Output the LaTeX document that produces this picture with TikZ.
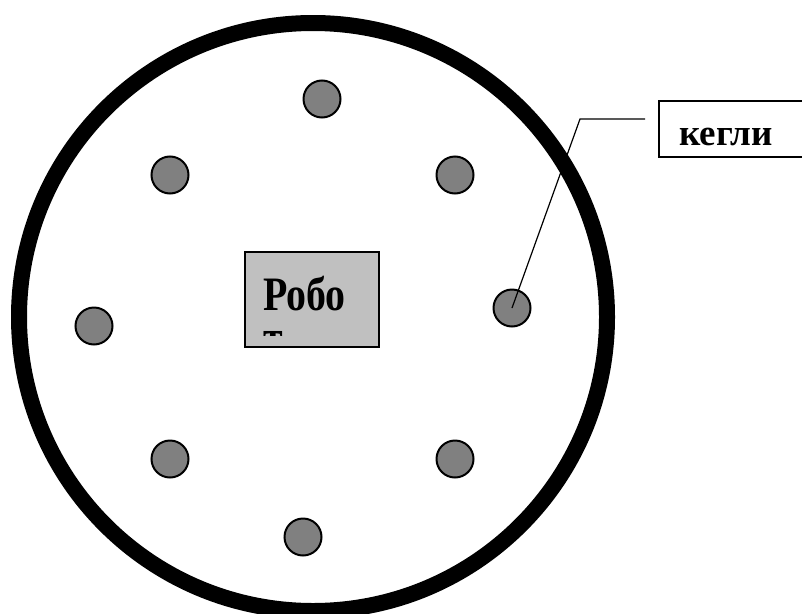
\documentclass[tikz,border=0pt]{standalone}
\usepackage{fontspec}
\setmainfont{Liberation Serif}
\definecolor{pingray}{HTML}{808080}
\definecolor{robotgray}{HTML}{C0C0C0}
\begin{document}
\begin{tikzpicture}[x=1pt,y=-1pt,
  pin/.style={circle, draw=black, line width=2pt, fill=pingray, minimum size=37pt, inner sep=0pt},
  leader/.style={line width=1.2pt},
  robottext/.style={font=\fontsize{48}{43}\selectfont\bfseries, inner sep=0pt, align=left, xscale=0.83},
  label/.style={font=\fontsize{37}{40}\selectfont\bfseries, inner sep=0pt}]
\useasboundingbox (0,0) rectangle (802,613);
\clip (0,0) rectangle (802,613);
\fill[white] (0,0) rectangle (802,613);
% arena
\node[circle, draw=black, line width=16pt, minimum size=588pt, inner sep=0pt] (arena) at (313,317) {};
% pins
\node[pin] (p1) at (322,99) {};
\node[pin] (p2) at (170,175) {};
\node[pin] (p3) at (455,175) {};
\node[pin] (p4) at (512,308) {};
\node[pin] (p5) at (94,326) {};
\node[pin] (p6) at (170,459) {};
\node[pin] (p7) at (455,459) {};
\node[pin] (p8) at (303,537) {};
% robot
\node[draw=black, fill=robotgray, line width=1.5pt, minimum width=134pt, minimum height=95pt, inner sep=0pt] (robot) at (312,299.5) {};
\begin{scope}
  \clip (250,255) rectangle (375,335);
  \node[robottext, anchor=base west] (robotA) at (263,353) {Робо\\т};
\end{scope}
% callout
\coordinate (bend) at (580,119);
\coordinate (lend) at (645,119);
\draw[leader] (p4.center) -- (bend) -- (lend);
\node[draw=black, line width=1.5pt, minimum width=160pt, minimum height=56pt, inner sep=0pt, anchor=north west] (kbox) at (658,100) {};
\node[label, anchor=base west] (kegli) at (679,145) {кегли};
\end{tikzpicture}
\end{document}
